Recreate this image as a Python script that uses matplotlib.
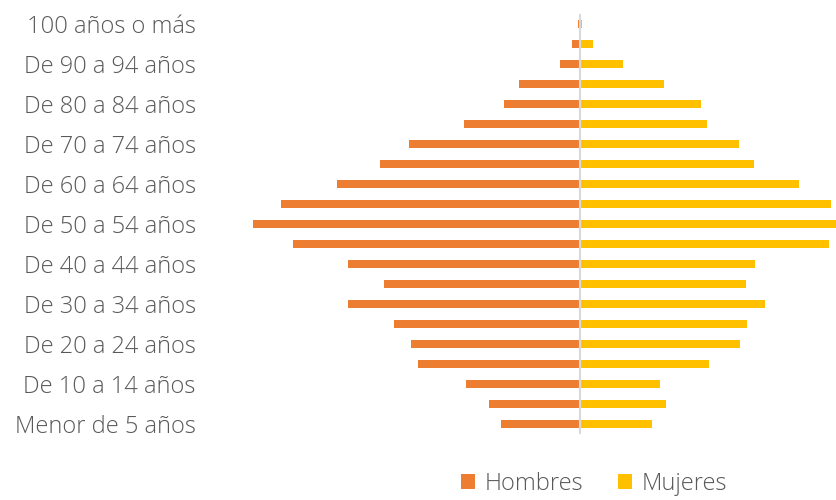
import numpy as np
import matplotlib.pyplot as plt

plt.rcParams['font.family'] = ['Open Sans', 'DejaVu Sans']

# grupos de edad, de menor a mayor
grupos = ["Menor de 5 años", "De 5 a 9 años", "De 10 a 14 años", "De 15 a 19 años",
          "De 20 a 24 años", "De 25 a 29 años", "De 30 a 34 años", "De 35 a 39 años",
          "De 40 a 44 años", "De 45 a 49 años", "De 50 a 54 años", "De 55 a 59 años",
          "De 60 a 64 años", "De 65 a 69 años", "De 70 a 74 años", "De 75 a 79 años",
          "De 80 a 84 años", "De 85 a 89 años", "De 90 a 94 años", "De 95 a 99 años",
          "100 años o más"]

hombres = [79, 91, 114, 162, 169, 186, 232, 196, 232, 287, 327, 299,
           243, 200, 171, 116, 76, 61, 20, 8, 2]
mujeres = [72, 86, 80, 129, 160, 167, 185, 166, 175, 249, 258, 251,
           219, 174, 159, 127, 121, 84, 43, 13, 2]

naranja = '#ED7D31'
amarillo = '#FFC000'
gris_texto = '#595959'

fig = plt.figure(figsize=(8.37, 5.0), dpi=100)
ax = fig.add_axes([250 / 837, 66 / 500, 587 / 837, 420 / 500])

y = np.arange(len(grupos))
ax.barh(y, -np.array(hombres), height=0.4, color=naranja, label='Hombres')
ax.barh(y, mujeres, height=0.4, color=amarillo, label='Mujeres')
ax.axvline(0, color='#d9d9d9', lw=1.5, zorder=3)

ax.set_xlim(-330, 257)
ax.set_ylim(-0.5, len(grupos) - 0.5)
ax.set_yticks(y[::2])
ax.set_yticklabels(grupos[::2], fontsize=17, color=gris_texto, fontweight='light')
ax.tick_params(axis='y', length=0, pad=39)
ax.set_xticks([])
for s in ax.spines.values():
    s.set_visible(False)

fig.legend(loc='center', bbox_to_anchor=(594 / 837, 1 - 484 / 500), ncol=2,
           frameon=False, prop={'size': 17, 'weight': 'light'}, labelcolor=gris_texto,
           handlelength=0.6, handleheight=0.6, handletextpad=0.4, columnspacing=1.5)

fig.savefig('out.png', dpi=100)
